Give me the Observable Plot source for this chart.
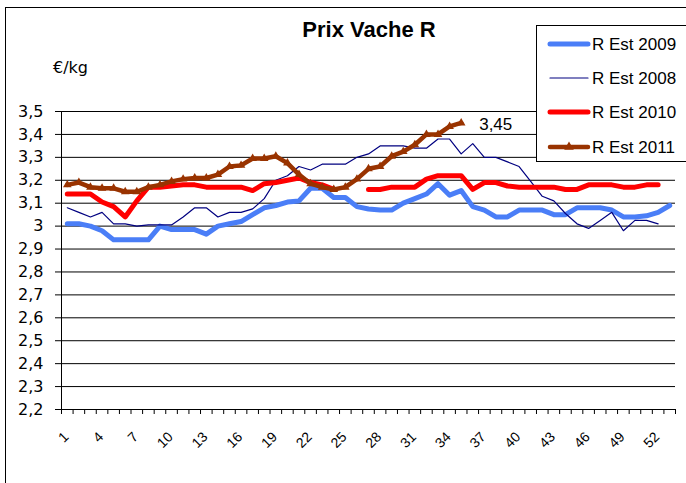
<!DOCTYPE html>
<html>
<head>
<meta charset="utf-8">
<script src="https://cdn.jsdelivr.net/npm/d3@7"></script>
<script src="https://cdn.jsdelivr.net/npm/@observablehq/plot@0.6"></script>
<style>
  body { margin: 0; background: #fff; }
  #wrap { position: relative; width: 686px; height: 483px; overflow: hidden; background: #fff;
          font-family: "Liberation Sans", Arial, sans-serif; }
  #chart { position: absolute; left: 0; top: 0; }
  #frame { position: absolute; left: 5px; top: 7px; width: 700px; height: 500px;
           border: 1px solid #000; box-sizing: border-box; pointer-events: none; }
  #title { position: absolute; left: 269px; width: 200px; top: 17px; text-align: center;
           font-weight: bold; font-size: 22px; color: #000; }
  #unit { position: absolute; left: 53px; top: 58px; font-family: "DejaVu Sans", sans-serif;
          font-size: 16px; color: #000; }
  #legend { position: absolute; left: 536px; top: 25px; width: 152px; height: 137px;
            background: #fff; border: 1px solid #000; box-sizing: border-box; }
</style>
</head>
<body>
<div id="wrap">
  <div id="chart"></div>
  <div id="frame"></div>
  <div id="title">Prix Vache R</div>
  <div id="unit">€/kg</div>
  <div id="legend"></div>
</div>
<script>
// ---- Data ----
const seriesNames = ["R Est 2009", "R Est 2008", "R Est 2010", "R Est 2011"];
const seriesColors = ["#4a7ef7", "#000080", "#ff0000", "#993300"];
const seriesWidths = [5, 1.2, 5, 4.5];

const rEst2009 = [3.01, 3.01, 3.00, 2.98, 2.94, 2.94, 2.94, 2.94, 3.00, 2.985,
                  2.985, 2.985, 2.965, 3.00, 3.01, 3.02, 3.05, 3.08, 3.09, 3.105,
                  3.11, 3.165, 3.165, 3.125, 3.125, 3.085, 3.075, 3.07, 3.07, 3.10,
                  3.12, 3.14, 3.185, 3.135, 3.155, 3.085, 3.07, 3.04, 3.04, 3.07,
                  3.07, 3.07, 3.05, 3.05, 3.08, 3.08, 3.08, 3.07, 3.04, 3.04,
                  3.045, 3.06, 3.09];
const rEst2008 = [3.08, 3.06, 3.04, 3.06, 3.01, 3.01, 3.00, 3.005, 3.005, 3.005,
                  3.04, 3.08, 3.08, 3.04, 3.06, 3.06, 3.075, 3.12, 3.20, 3.22,
                  3.26, 3.245, 3.27, 3.27, 3.27, 3.30, 3.315, 3.35, 3.35, 3.35,
                  3.34, 3.34, 3.38, 3.38, 3.315, 3.36, 3.30, 3.30, 3.28, 3.26,
                  3.195, 3.13, 3.11, 3.055, 3.01, 2.99, 3.025, 3.06, 2.98, 3.025,
                  3.025, 3.01];
const rEst2010 = [3.14, 3.14, 3.14, 3.105, 3.085, 3.04, 3.11, 3.17, 3.17, 3.175,
                  3.18, 3.18, 3.17, 3.17, 3.17, 3.17, 3.155, 3.185, 3.19, 3.20,
                  3.21, 3.19, 3.18, 3.16, null, null, 3.16, 3.16, 3.17, 3.17,
                  3.17, 3.205, 3.22, 3.22, 3.22, 3.16, 3.19, 3.19, 3.175, 3.17,
                  3.17, 3.17, 3.17, 3.16, 3.16, 3.18, 3.18, 3.18, 3.17, 3.17,
                  3.18, 3.18];
const rEst2011 = [3.18, 3.19, 3.17, 3.165, 3.165, 3.15, 3.15, 3.17, 3.18, 3.195,
                  3.205, 3.21, 3.21, 3.225, 3.26, 3.265, 3.295, 3.295, 3.305, 3.275,
                  3.225, 3.185, 3.17, 3.16, 3.17, 3.205, 3.25, 3.26, 3.305, 3.325,
                  3.355, 3.40, 3.40, 3.435, 3.45];

const xTickLabels = [1, 4, 7, 10, 13, 16, 19, 22, 25, 28, 31, 34, 37, 40, 43, 46, 49, 52];
const yTicks = [2.2, 2.3, 2.4, 2.5, 2.6, 2.7, 2.8, 2.9, 3.0, 3.1, 3.2, 3.3, 3.4, 3.5];
const nCategories = 53;

// ---- Build tables ----
const toRows = (vals, name) => vals.map((v, i) => ({ week: i + 1, value: v, series: name }));
const allSeries = [rEst2009, rEst2008, rEst2010, rEst2011].map((v, i) => toRows(v, seriesNames[i]));
const lastBrown = allSeries[3][allSeries[3].length - 1];
const boundaries = d3.range(0.5, nCategories + 1, 1);
const fmt = d => String(Math.round(d * 100) / 100).replace(".", ",");

const lineMarks = allSeries.map((rows, i) =>
  Plot.line(rows, {
    x: "week", y: "value",
    stroke: seriesColors[i], strokeWidth: seriesWidths[i],
    strokeLinejoin: "round", strokeLinecap: "round"
  })
);

const chart = Plot.plot({
  width: 686, height: 483,
  marginLeft: 61, marginRight: 11, marginTop: 111, marginBottom: 74,
  style: { background: "transparent", fontFamily: "Liberation Sans, Arial, sans-serif", color: "#000" },
  x: { type: "linear", domain: [0.5, nCategories + 0.5] },
  y: { domain: [2.2, 3.5] },
  marks: [
    Plot.gridY(yTicks, { stroke: "#000", strokeOpacity: 1, strokeWidth: 1 }),
    Plot.axisY(yTicks, { tickSize: 6, tickPadding: 12, tickFormat: fmt, fontSize: 16,
                         fontFamily: "DejaVu Sans, sans-serif", label: null }),
    Plot.axisX(boundaries, { tickSize: 5, tickFormat: () => "", label: null }),
    Plot.text(xTickLabels, { x: d => d, frameAnchor: "bottom", text: d => String(d),
                             rotate: -45, textAnchor: "end", lineAnchor: "middle",
                             dx: -1, dy: 25, fontSize: 14, fill: "#000" }),
    Plot.ruleX([0.5], { stroke: "#000" }),
    Plot.ruleY([2.2], { stroke: "#000" }),
    ...lineMarks,
    Plot.dot(allSeries[3], { x: "week", y: "value", symbol: "triangle", r: 3.2, fill: seriesColors[3], stroke: "none" }),
    Plot.text([lastBrown], { x: "week", y: "value", text: d => fmt(d.value), dx: 18, dy: 2,
                             textAnchor: "start", fontSize: 17, fill: "#000" })
  ]
});
document.getElementById("chart").appendChild(chart);

// ---- Legend ----
const legend = d3.select("#legend").append("svg").attr("width", 150).attr("height", 137);
const rowY = [18, 52, 86, 121];
seriesNames.forEach((name, i) => {
  const g = legend.append("g").attr("transform", `translate(0,${rowY[i]})`);
  g.append("line").attr("x1", 13).attr("x2", 51).attr("y1", 0).attr("y2", 0)
    .attr("stroke", seriesColors[i]).attr("stroke-width", seriesWidths[i]).attr("stroke-linecap", "round");
  if (i === 3) {
    g.append("path").attr("d", d3.symbol(d3.symbolTriangle, 40)())
      .attr("transform", "translate(32,0)").attr("fill", seriesColors[i]);
  }
  g.append("text").attr("x", 55).attr("y", 6).attr("font-size", 17)
    .attr("font-family", "Liberation Sans, Arial, sans-serif").attr("fill", "#000").text(name);
});
</script>
</body>
</html>
